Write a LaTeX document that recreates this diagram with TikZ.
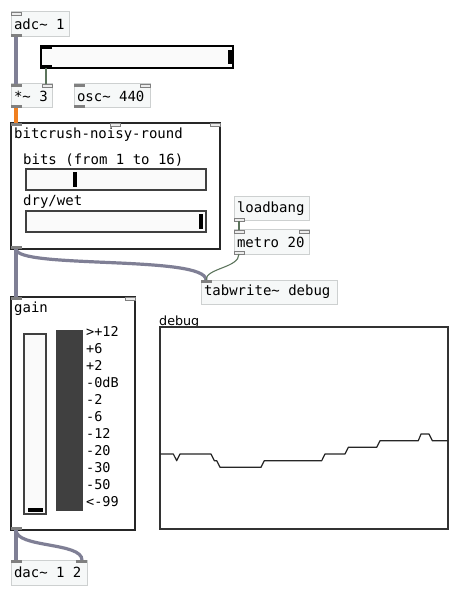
\documentclass[tikz,border=0pt]{standalone}
\usepackage{fontspec}
\usepackage{tikz}
\usetikzlibrary{positioning}
\newfontfamily\pdfont{DejaVu Sans Mono}
\newfontfamily\pdsans{DejaVu Sans}
\definecolor{boxfill}{HTML}{F6F8F8}
\definecolor{boxline}{HTML}{CDD0D0}
\definecolor{portdark}{HTML}{808080}
\definecolor{portlight}{HTML}{ECECEC}
\definecolor{sigcable}{HTML}{7F7F95}
\definecolor{ctlcable}{HTML}{5C745C}
\definecolor{hotcable}{HTML}{F07F20}
\tikzset{>=stealth,
  obj/.style={draw=boxline, fill=boxfill, line width=1pt, anchor=north west, outer sep=0pt,
    inner xsep=3pt, inner ysep=0pt, minimum height=25,
    execute at begin node={\hbox to #1pt\bgroup}, execute at end node={\hfil\egroup},
    font=\pdfont\fontsize{14}{16}\selectfont},
  gop/.style={draw=black!85, fill=white, line width=1.3pt, anchor=north west, outer sep=0pt, inner sep=0pt},
  slid/.style={draw=black!75, fill=black!2, line width=1.5pt, anchor=north west, outer sep=0pt, inner sep=0pt},
  lbl/.style={anchor=west, inner sep=0pt, font=\pdfont\fontsize{14}{16}\selectfont},
  sigport/.style={fill=portdark},
  ctlport/.style={fill=portlight, draw=portdark, line width=.8pt},
  sig/.style={line width=3.2pt, color=sigcable},
  ctl/.style={line width=1.1pt, color=ctlcable}
}
\begin{document}
\begin{tikzpicture}[x=1pt, y=-1pt]
\useasboundingbox[fill=white] (0,0) rectangle (462,601);

% objects
\node[obj=52] (adc) at (11,12) {adc\textasciitilde{} 1};
\node[slid, draw=black, line width=2pt, minimum width=192, minimum height=22] (vol) at (41,46) {};
\node[obj=35, minimum height=24] (mul) at (11,84) {*\textasciitilde{} 3};
\node[obj=70, minimum height=24] (osc) at (74,84) {osc\textasciitilde{} 440};

\node[gop, minimum width=209, minimum height=126] (bc) at (11,123) {};
\node[lbl] (bcname) at (14,135) {bitcrush-noisy-round};
\node[lbl] (bitslbl) at (23,160) {bits (from 1 to 16)};
\node[slid, minimum width=180, minimum height=21] (bits) at (26,169) {};
\node[lbl] (drylbl) at (23,202) {dry/wet};
\node[slid, minimum width=180, minimum height=21] (dry) at (26,211) {};

\node[obj=69, minimum height=24] (lb) at (234,197) {loadbang};
\node[obj=69, minimum height=24] (met) at (234,230) {metro 20};
\node[obj=130, minimum height=24] (tw) at (201,280) {tabwrite\textasciitilde{} debug};

\node[gop, minimum width=124, minimum height=233] (gain) at (11,297) {};
\node[lbl] (gainname) at (14,309) {gain};
\node[slid, line width=1.3pt, minimum width=22, minimum height=180] (fader) at (24,334) {};
\node[slid, fill=black!75, minimum width=25, minimum height=179] (vu) at (57,331) {};
\foreach \t [count=\i from 0] in {>+12,+6,+2,-0dB,-2,-6,-12,-20,-30,-50,<-99}
  \node[lbl, font=\pdfont\fontsize{13.5}{16}\selectfont] (vu\i) at (86,331+\i*17.1) {\t};

\node[anchor=south west, inner sep=0pt, font=\pdsans\fontsize{12.7}{15}\selectfont] (dbglbl) at (159,328) {debug};
\node[gop, draw=black!80, line width=1.2pt, minimum width=288, minimum height=202] (graph) at (160,327) {};

\node[obj=70] (dac) at (11,560) {dac\textasciitilde{} 1 2};

% knobs
\fill (228,50) rectangle (232,64);
\fill[black] (41,46) rectangle (52,49);
\fill[black] (41,65) rectangle (52,68);
\fill (73,172) rectangle (77,187);
\fill (199,214) rectangle (203,229);
\fill (28,508) rectangle (43,512);

% table plot
\draw[line width=1.2pt, black!85, line join=round] plot coordinates {(160,454) (173.3,454) (176.7,460.7) (180,454) (211,454) (214.3,460.7) (216.7,460.7) (220,467.3) (261,467.3) (264.3,460.7) (321.7,460.7) (325,454) (345,454) (348.3,447.3) (376.7,447.3) (380,440.7) (418.3,440.7) (421,434) (429,434) (432.3,440.7) (448,440.7)};

% inlets and outlets
\fill[ctlport] (adc.north west) rectangle ++(10,3);
\fill[sigport] (adc.south west) rectangle ++(11,-3);
\fill[sigport] (mul.north west) rectangle ++(11,3);
\fill[ctlport] (mul.north east) rectangle ++(-10,3);
\fill[sigport] (mul.south west) rectangle ++(11,-3);
\fill[sigport] (osc.north west) rectangle ++(11,3);
\fill[ctlport] (osc.north east) rectangle ++(-10,3);
\fill[sigport] (osc.south west) rectangle ++(11,-3);
\fill[sigport] (bc.north west) rectangle ++(11,3);
\fill[ctlport] ([xshift=99]bc.north west) rectangle ++(10,3);
\fill[ctlport] (bc.north east) rectangle ++(-10,3);
\fill[sigport] (bc.south west) rectangle ++(11,-3);
\fill[ctlport] (lb.south west) rectangle ++(10,-3);
\fill[ctlport] (met.north west) rectangle ++(10,3);
\fill[ctlport] (met.north east) rectangle ++(-10,3);
\fill[ctlport] (met.south west) rectangle ++(10,-3);
\fill[sigport] (tw.north west) rectangle ++(11,3);
\fill[sigport] (gain.north west) rectangle ++(11,3);
\fill[ctlport] (gain.north east) rectangle ++(-10,3);
\fill[sigport] (gain.south west) rectangle ++(11,-3);
\fill[sigport] (dac.north west) rectangle ++(11,3);
\fill[sigport] (dac.north east) rectangle ++(-11,3);

% cables
\draw[sig] ([xshift=5]adc.south west)--([xshift=5]mul.north west);
\draw[ctl] ([xshift=5]vol.south west)--([xshift=5]vol.south west |- mul.north);
\draw[sig, color=hotcable] ([xshift=5]mul.south west)--([xshift=5]bc.north west);
\draw[sig] ([xshift=5]bc.south west)--([xshift=5]gain.north west);
\draw[sig] ([xshift=5]bc.south west) .. controls +(0,20) and +(0,-25) .. ([xshift=5]tw.north west);
\draw[ctl] ([xshift=5]lb.south west)--([xshift=5]met.north west);
\draw[ctl] ([xshift=5]met.south west) .. controls +(0,14) and +(0,-12) .. ([xshift=5]tw.north west);
\draw[sig] ([xshift=5]gain.south west)--([xshift=5]dac.north west);
\draw[sig] ([xshift=5]gain.south west) .. controls +(0,18) and +(0,-18) .. ([xshift=-5]dac.north east);

    \end{tikzpicture}
\end{document}
